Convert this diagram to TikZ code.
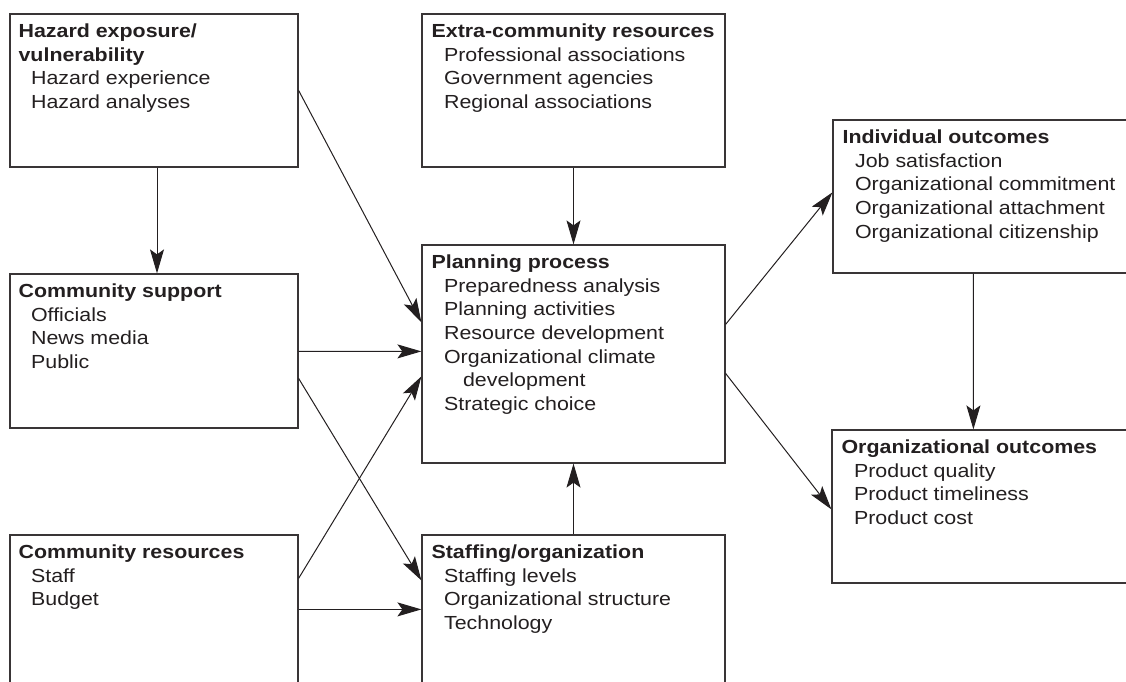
\documentclass[tikz,border=0pt]{standalone}
\usepackage{fontspec}
\setmainfont{Liberation Sans}[FakeStretch=1.13]
\usetikzlibrary{arrows.meta,calc}

\definecolor{ink}{HTML}{231F20}

% indented list entry inside a box
\newcommand{\boxitem}[1]{\hspace*{12.5bp}#1}

\begin{document}
\begin{tikzpicture}[x=1bp,y=-1bp,
  box/.style={draw=ink!90, line width=1.2bp, rectangle, inner sep=0pt},
  txt/.style={anchor=north west, inner sep=0pt, align=left,
              font=\fontsize{19}{23.8}\selectfont, text=ink},
  arr/.style={-{Stealth[length=24bp,width=14bp,inset=5bp]}, line width=1bp, ink}
]
\path[use as bounding box, clip] (0,0) rectangle (1126,682);

% boxes
\node[box, minimum width=288bp, minimum height=153bp] (haz)    at (154,90.5)    {};
\node[box, minimum width=303bp, minimum height=153bp] (extra)  at (573.5,90.5)  {};
\node[box, minimum width=312bp, minimum height=153bp] (indiv)  at (989,196.5)   {};
\node[box, minimum width=288bp, minimum height=154bp] (comsup) at (154,351)     {};
\node[box, minimum width=303bp, minimum height=218bp] (plan)   at (573.5,354)   {};
\node[box, minimum width=313bp, minimum height=153bp] (org)    at (988.5,506.5) {};
\node[box, minimum width=288bp, minimum height=165bp] (comres) at (154,617.5)   {};
\node[box, minimum width=303bp, minimum height=165bp] (staff)  at (573.5,617.5) {};

% box contents
\node[txt] (hazt) at ($(haz.north west)+(9,10)$)
  {\textbf{Hazard exposure/}\\\textbf{vulnerability}\\\boxitem{Hazard experience}\\\boxitem{Hazard analyses}};
\node[txt] (extrat) at ($(extra.north west)+(10,10)$)
  {\textbf{Extra-community resources}\\\boxitem{Professional associations}\\\boxitem{Government agencies}\\\boxitem{Regional associations}};
\node[txt] (indivt) at ($(indiv.north west)+(10,10)$)
  {\textbf{Individual outcomes}\\\boxitem{Job satisfaction}\\\boxitem{Organizational commitment}\\\boxitem{Organizational attachment}\\\boxitem{Organizational citizenship}};
\node[txt] (comsupt) at ($(comsup.north west)+(9,10)$)
  {\textbf{Community support}\\\boxitem{Officials}\\\boxitem{News media}\\\boxitem{Public}};
\node[txt] (plant) at ($(plan.north west)+(10,10)$)
  {\textbf{Planning process}\\\boxitem{Preparedness analysis}\\\boxitem{Planning activities}\\\boxitem{Resource development}\\\boxitem{Organizational climate}\\\boxitem{\hspace*{19bp}development}\\\boxitem{Strategic choice}};
\node[txt] (orgt) at ($(org.north west)+(10,10)$)
  {\textbf{Organizational outcomes}\\\boxitem{Product quality}\\\boxitem{Product timeliness}\\\boxitem{Product cost}};
\node[txt] (comrest) at ($(comres.north west)+(9,10)$)
  {\textbf{Community resources}\\\boxitem{Staff}\\\boxitem{Budget}};
\node[txt] (stafft) at ($(staff.north west)+(10,10)$)
  {\textbf{Staffing/organization}\\\boxitem{Staffing levels}\\\boxitem{Organizational structure}\\\boxitem{Technology}};

% connectors
\draw[arr] ($(haz.south)+(3,0)$) -- ($(comsup.north)+(3,0)$);
\draw[arr] ($(haz.north east)+(0,77)$) -- ($(plan.north west)+(0,78)$);
\draw[arr] (extra.south) -- (plan.north);
\draw[arr] ($(comsup.north east)+(0,78)$) -- ($(plan.north west)+(0,107)$);
\draw[arr] ($(comsup.north east)+(0,105)$) -- ($(staff.north west)+(0,46)$);
\draw[arr] ($(comres.north east)+(0,44)$) -- ($(plan.north west)+(0,132)$);
\draw[arr] ($(comres.north east)+(0,75)$) -- ($(staff.north west)+(0,75)$);
\draw[arr] (staff.north) -- (plan.south);
\draw[arr] ($(plan.north east)+(0,80)$) -- ($(indiv.north west)+(0,73)$);
\draw[arr] ($(plan.north east)+(0,129)$) -- ($(org.north west)+(0,80)$);
\draw[arr] ($(indiv.south west)+(141,0)$) -- ($(org.north west)+(142,0)$);
\end{tikzpicture}
\end{document}
